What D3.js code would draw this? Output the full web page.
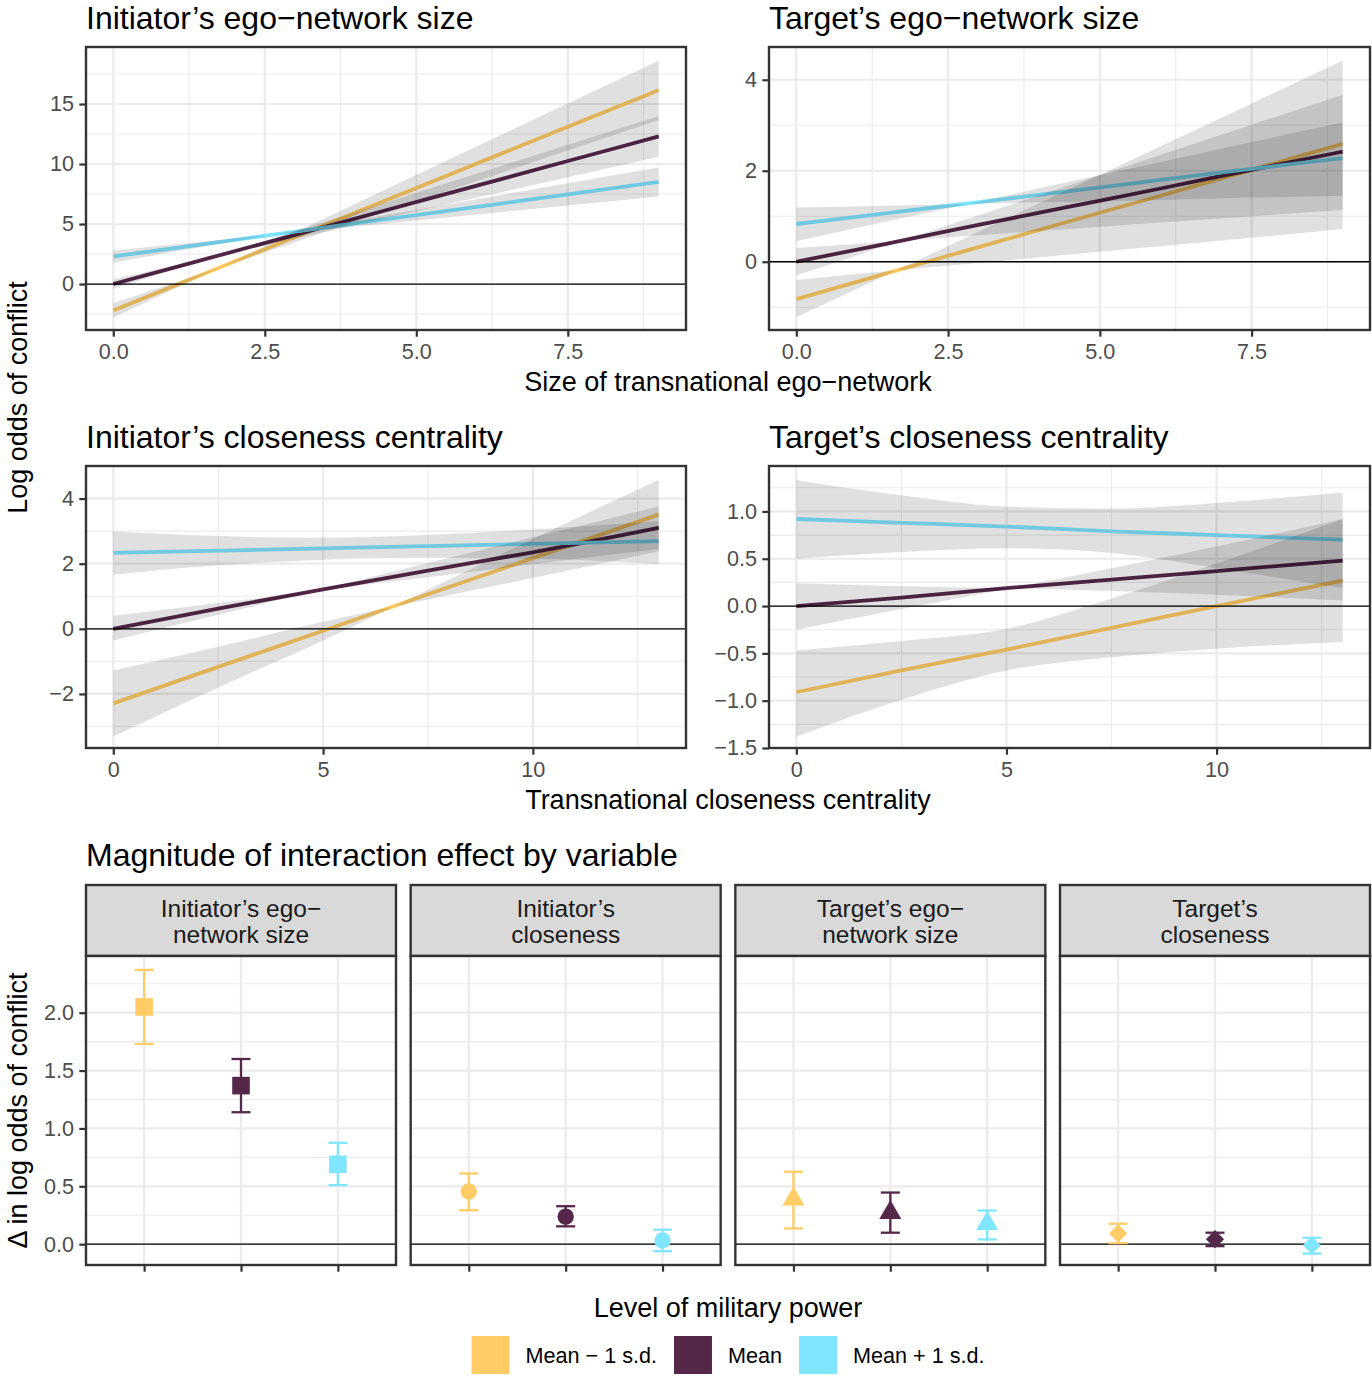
<!DOCTYPE html>
<html>
<head>
<meta charset="utf-8">
<script src="https://cdn.jsdelivr.net/npm/d3@7"></script>
<style>
  body { margin: 0; background: #fff; }
  svg text { font-family: "Liberation Sans", Arial, Helvetica, sans-serif; }
</style>
</head>
<body>
<svg id="chart" width="1372" height="1376"></svg>
<script>
// levels of military power (legend)
const levels = ["Mean \u2212 1 s.d.", "Mean", "Mean + 1 s.d."];
const levelColors = ["#FFCC66", "#55284A", "#80E5FF"];

// top row: size of transnational ego-network
const egoX = [0, 1.5, 3, 4.5, 6, 7.5, 9];
const egoTicks = [0, 2.5, 5, 7.5];

const initEgoFit = [
  [-2.20, 0.86, 3.92, 6.98, 10.04, 13.10, 16.16],
  [0.00, 2.05, 4.10, 6.15, 8.20, 10.25, 12.30],
  [2.30, 3.33, 4.37, 5.40, 6.43, 7.47, 8.50]
];
const initEgoLo = [
  [-1.60, 0.95, 3.49, 6.04, 8.58, 11.13, 13.67],
  [0.40, 2.10, 3.80, 5.50, 7.20, 8.90, 10.60],
  [2.80, 3.55, 4.30, 5.05, 5.80, 6.55, 7.30]
];
const initEgoHi = [
  [-2.80, 0.77, 4.33, 7.90, 11.47, 15.04, 18.60],
  [-0.40, 2.00, 4.40, 6.80, 9.20, 11.60, 14.00],
  [1.80, 3.12, 4.43, 5.75, 7.07, 8.39, 9.70]
];

const targEgoFit = [
  [-0.82, -0.25, 0.32, 0.89, 1.45, 2.02, 2.59],
  [0.00, 0.40, 0.81, 1.21, 1.61, 2.02, 2.42],
  [0.83, 1.07, 1.31, 1.55, 1.80, 2.04, 2.28]
];
const targEgoLo = [
  [-0.40, -0.21, -0.03, 0.16, 0.34, 0.53, 0.72],
  [0.30, 0.44, 0.58, 0.72, 0.86, 1.00, 1.14],
  [1.19, 1.23, 1.28, 1.32, 1.36, 1.41, 1.45]
];
const targEgoHi = [
  [-1.22, -0.28, 0.66, 1.60, 2.54, 3.48, 4.42],
  [-0.30, 0.36, 1.02, 1.68, 2.35, 3.01, 3.67],
  [0.45, 0.89, 1.32, 1.76, 2.19, 2.63, 3.06]
];

// middle row: transnational closeness centrality
const closeX = [0, 2.5, 5, 7.5, 10, 13];
const closeTicks = [0, 5, 10];

const initCloseFit = [
  [-2.29, -1.17, -0.06, 1.06, 2.17, 3.51],
  [0.00, 0.62, 1.21, 1.79, 2.35, 3.10],
  [2.33, 2.40, 2.47, 2.54, 2.61, 2.69]
];
const initCloseLo = [
  [-1.28, -0.55, 0.22, 0.90, 1.56, 2.38],
  [0.40, 0.79, 1.19, 1.58, 1.98, 2.45],
  [1.66, 1.95, 2.12, 2.18, 2.15, 1.99]
];
const initCloseHi = [
  [-3.31, -1.80, -0.36, 1.20, 2.76, 4.58],
  [-0.36, 0.43, 1.22, 2.02, 2.81, 3.76],
  [2.99, 2.85, 2.80, 2.88, 3.05, 3.30]
];

const targCloseFit = [
  [-0.91, -0.68, -0.46, -0.23, 0.00, 0.27],
  [0.00, 0.09, 0.19, 0.28, 0.37, 0.48],
  [0.92, 0.88, 0.84, 0.79, 0.75, 0.70]
];
const targCloseLo = [
  [-1.38, -0.99, -0.68, -0.54, -0.45, -0.38],
  [0.24, 0.21, 0.19, 0.16, 0.12, 0.06],
  [0.50, 0.57, 0.61, 0.56, 0.40, 0.19]
];
const targCloseHi = [
  [-0.47, -0.37, -0.24, 0.08, 0.45, 0.92],
  [-0.25, -0.03, 0.18, 0.40, 0.63, 0.92],
  [1.33, 1.17, 1.05, 1.03, 1.09, 1.20]
];

// bottom: magnitude of interaction effect
const effectVars = [
  ["Initiator\u2019s ego\u2212", "network size"],
  ["Initiator\u2019s", "closeness"],
  ["Target\u2019s ego\u2212", "network size"],
  ["Target\u2019s", "closeness"]
];
const effectEst = [[2.05, 1.37, 0.69], [0.455, 0.238, 0.032], [0.389, 0.272, 0.177], [0.093, 0.043, -0.009]];
const effectLo = [[1.73, 1.14, 0.51], [0.293, 0.154, -0.061], [0.136, 0.099, 0.041], [0.009, -0.017, -0.081]];
const effectHi = [[2.37, 1.60, 0.876], [0.611, 0.328, 0.125], [0.626, 0.446, 0.290], [0.177, 0.099, 0.055]];
const effectTicks = [0, 0.5, 1, 1.5, 2];

const svg = d3.select("#chart");
const gridCol = "#EBEBEB", inkCol = "#333333", tickTextCol = "#4D4D4D";

// ggplot-style minor breaks half way between the majors
function minorBreaks(major, dom) {
  const step = major[1] - major[0];
  const out = [];
  for (let v = major[0] - step / 2; v <= dom[1] + 1e-9; v += step) if (v >= dom[0]) out.push(v);
  return out;
}

function styleAxis(g) {
  g.select(".domain").remove();
  g.selectAll(".tick line").attr("stroke", inkCol).attr("stroke-width", 2.2);
  g.selectAll(".tick text").attr("fill", tickTextCol).style("font-size", "21.6px");
}

function drawLinePanel(p) {
  const [left, top, right, bottom] = p.box;
  const x = d3.scaleLinear().domain(p.xDomain).range([left, right]);
  const y = d3.scaleLinear().domain(p.yDomain).range([bottom, top]);
  const g = svg.append("g");

  svg.append("text").attr("x", left).attr("y", top - 18)
    .style("font-size", "32px").attr("fill", "#000").text(p.title);

  g.append("rect").attr("x", left).attr("y", top).attr("width", right - left).attr("height", bottom - top).attr("fill", "#fff");

  const grid = g.append("g").attr("stroke", gridCol);
  grid.selectAll(".vmin").data(minorBreaks(p.xTicks, p.xDomain)).join("line")
    .attr("x1", d => x(d)).attr("x2", d => x(d)).attr("y1", top).attr("y2", bottom).attr("stroke-width", 1.1);
  grid.selectAll(".hmin").data(minorBreaks(p.yTicks, p.yDomain)).join("line")
    .attr("y1", d => y(d)).attr("y2", d => y(d)).attr("x1", left).attr("x2", right).attr("stroke-width", 1.1);
  grid.selectAll(".vmaj").data(p.xTicks).join("line")
    .attr("x1", d => x(d)).attr("x2", d => x(d)).attr("y1", top).attr("y2", bottom).attr("stroke-width", 2.2);
  grid.selectAll(".hmaj").data(p.yTicks).join("line")
    .attr("y1", d => y(d)).attr("y2", d => y(d)).attr("x1", left).attr("x2", right).attr("stroke-width", 2.2);

  const line = d3.line().x((d, i) => x(p.x[i])).y(d => y(d)).curve(d3.curveMonotoneX);
  p.fit.forEach((s, k) => {
    g.append("path").attr("d", line(s)).attr("fill", "none")
      .attr("stroke", levelColors[k]).attr("stroke-width", 3.8);
  });

  // confidence ribbons sit over the lines, as in the original
  p.lo.forEach((lo, k) => {
    const hi = p.hi[k];
    const area = d3.area().x((d, i) => x(p.x[i]))
      .y0((d, i) => y(lo[i])).y1((d, i) => y(hi[i])).curve(d3.curveMonotoneX);
    g.append("path").attr("d", area(lo)).attr("fill", "#000").attr("fill-opacity", 0.12);
  });

  g.append("line").attr("x1", left).attr("x2", right).attr("y1", y(0)).attr("y2", y(0))
    .attr("stroke", "#000").attr("stroke-width", 1.3);

  g.append("rect").attr("x", left).attr("y", top).attr("width", right - left).attr("height", bottom - top)
    .attr("fill", "none").attr("stroke", inkCol).attr("stroke-width", 2.4);

  svg.append("g").attr("transform", `translate(0,${bottom})`)
    .call(d3.axisBottom(x).tickValues(p.xTicks).tickFormat(p.xFormat).tickSize(6.7).tickPadding(6.5))
    .call(styleAxis);
  svg.append("g").attr("transform", `translate(${left},0)`)
    .call(d3.axisLeft(y).tickValues(p.yTicks).tickFormat(p.yFormat).tickSize(6.7).tickPadding(5.4))
    .call(styleAxis);
}

const linePanels = [
  { title: "Initiator\u2019s ego\u2212network size", x: egoX, fit: initEgoFit, lo: initEgoLo, hi: initEgoHi,
    box: [86, 47, 686, 330], xDomain: [-0.45, 9.45], yDomain: [-3.83, 19.75],
    xTicks: egoTicks, yTicks: [0, 5, 10, 15], xFormat: d3.format(".1f"), yFormat: d3.format("d") },
  { title: "Target\u2019s ego\u2212network size", x: egoX, fit: targEgoFit, lo: targEgoLo, hi: targEgoHi,
    box: [769, 47, 1370, 330], xDomain: [-0.45, 9.45], yDomain: [-1.50, 4.72],
    xTicks: egoTicks, yTicks: [0, 2, 4], xFormat: d3.format(".1f"), yFormat: d3.format("d") },
  { title: "Initiator\u2019s closeness centrality", x: closeX, fit: initCloseFit, lo: initCloseLo, hi: initCloseHi,
    box: [86, 466, 686, 748], xDomain: [-0.65, 13.65], yDomain: [-3.66, 5.0],
    xTicks: closeTicks, yTicks: [-2, 0, 2, 4], xFormat: d3.format("d"), yFormat: d3.format("d") },
  { title: "Target\u2019s closeness centrality", x: closeX, fit: targCloseFit, lo: targCloseLo, hi: targCloseHi,
    box: [769, 466, 1370, 748], xDomain: [-0.65, 13.65], yDomain: [-1.5, 1.48],
    xTicks: closeTicks, yTicks: [-1.5, -1, -0.5, 0, 0.5, 1], xFormat: d3.format("d"), yFormat: d3.format(".1f") }
];
linePanels.forEach(drawLinePanel);

// shared axis titles
svg.append("text").attr("x", 728).attr("y", 391).attr("text-anchor", "middle")
  .style("font-size", "27px").text("Size of transnational ego\u2212network");
svg.append("text").attr("x", 728).attr("y", 809).attr("text-anchor", "middle")
  .style("font-size", "27px").text("Transnational closeness centrality");
svg.append("text").attr("transform", "translate(27,397.5) rotate(-90)").attr("text-anchor", "middle")
  .style("font-size", "27px").text("Log odds of conflict");

// bottom facets
svg.append("text").attr("x", 86).attr("y", 866).style("font-size", "32px")
  .text("Magnitude of interaction effect by variable");

const facetW = 310, stripTop = 885, stripBottom = 956, panelBottom = 1265;
const facetGap = (1370 - 86 - 4 * facetW) / 3;
const fx = d3.scalePoint().domain(levels).range([0, facetW]).padding(0.6);
const ey = d3.scaleLinear().domain([-0.18, 2.49]).range([panelBottom, stripBottom]);
const shapes = [d3.symbolSquare, d3.symbolCircle, d3.symbolTriangle, d3.symbolDiamond2];
const shapeSizes = [310, 210, 210, 210];

effectVars.forEach((lab, f) => {
  const left = 86 + f * (facetW + facetGap);
  const g = svg.append("g").attr("transform", `translate(${left},0)`);

  g.append("rect").attr("x", 0).attr("y", stripTop).attr("width", facetW).attr("height", stripBottom - stripTop)
    .attr("fill", "#D9D9D9").attr("stroke", inkCol).attr("stroke-width", 2.4);
  lab.forEach((t, i) => {
    g.append("text").attr("x", facetW / 2).attr("y", 917 + i * 26).attr("text-anchor", "middle")
      .attr("fill", "#1A1A1A").style("font-size", "24.5px").text(t);
  });

  g.append("rect").attr("x", 0).attr("y", stripBottom).attr("width", facetW).attr("height", panelBottom - stripBottom).attr("fill", "#fff");
  const grid = g.append("g").attr("stroke", gridCol);
  grid.selectAll(".hmin").data(minorBreaks(effectTicks, ey.domain())).join("line")
    .attr("x1", 0).attr("x2", facetW).attr("y1", d => ey(d)).attr("y2", d => ey(d)).attr("stroke-width", 1.1);
  grid.selectAll(".hmaj").data(effectTicks).join("line")
    .attr("x1", 0).attr("x2", facetW).attr("y1", d => ey(d)).attr("y2", d => ey(d)).attr("stroke-width", 2.2);
  grid.selectAll(".vmaj").data(levels).join("line")
    .attr("x1", d => fx(d)).attr("x2", d => fx(d)).attr("y1", stripBottom).attr("y2", panelBottom).attr("stroke-width", 2.2);

  g.append("line").attr("x1", 0).attr("x2", facetW).attr("y1", ey(0)).attr("y2", ey(0))
    .attr("stroke", "#000").attr("stroke-width", 1.3);

  levels.forEach((lv, k) => {
    const cx = fx(lv), col = levelColors[k];
    const eb = g.append("g").attr("stroke", col).attr("stroke-width", 2.3);
    eb.append("line").attr("x1", cx).attr("x2", cx).attr("y1", ey(effectLo[f][k])).attr("y2", ey(effectHi[f][k]));
    eb.append("line").attr("x1", cx - 9.5).attr("x2", cx + 9.5).attr("y1", ey(effectLo[f][k])).attr("y2", ey(effectLo[f][k]));
    eb.append("line").attr("x1", cx - 9.5).attr("x2", cx + 9.5).attr("y1", ey(effectHi[f][k])).attr("y2", ey(effectHi[f][k]));
    g.append("path").attr("d", d3.symbol().type(shapes[f]).size(shapeSizes[f])())
      .attr("transform", `translate(${cx},${ey(effectEst[f][k])})`).attr("fill", col);
  });

  g.append("rect").attr("x", 0).attr("y", stripBottom).attr("width", facetW).attr("height", panelBottom - stripBottom)
    .attr("fill", "none").attr("stroke", inkCol).attr("stroke-width", 2.4);

  const xAxis = g.append("g").attr("transform", `translate(0,${panelBottom})`)
    .call(d3.axisBottom(fx).tickSize(6.7).tickFormat(""));
  styleAxis(xAxis);

  if (f === 0) {
    g.append("g").call(d3.axisLeft(ey).tickValues(effectTicks).tickFormat(d3.format(".1f")).tickSize(6.7).tickPadding(5.4))
      .call(styleAxis);
  }
});

svg.append("text").attr("transform", "translate(27,1110.5) rotate(-90)").attr("text-anchor", "middle")
  .style("font-size", "27px").text("\u0394 in log odds of conflict");

// legend
svg.append("text").attr("x", 728).attr("y", 1317).attr("text-anchor", "middle")
  .style("font-size", "27px").text("Level of military power");
const legend = svg.append("g");
let cursor = 0;
levels.forEach((lv, k) => {
  legend.append("rect").attr("x", cursor).attr("y", 1336).attr("width", 38).attr("height", 38).attr("fill", levelColors[k]);
  const t = legend.append("text").attr("x", cursor + 54).attr("y", 1363).style("font-size", "21.6px").text(lv);
  cursor += 54 + t.node().getComputedTextLength() + 17;
});
const legendW = cursor - 17;
legend.attr("transform", `translate(${728 - legendW / 2},0)`);
</script>
</body>
</html>
